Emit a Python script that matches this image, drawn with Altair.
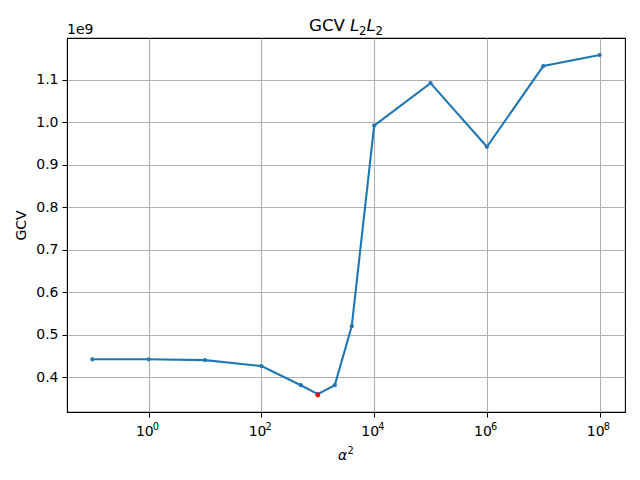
import altair as alt
import pandas as pd

alpha2 = [0.1, 1, 10, 100, 500, 1000, 2000, 4000, 1e4, 1e5, 1e6, 1e7, 1e8]
gcv = [0.442, 0.442, 0.440, 0.426, 0.381, 0.360, 0.381, 0.520, 0.992, 1.092, 0.942, 1.132, 1.158]
best_alpha = [1000]
best_gcv = [0.358]
x_ticks = [1, 100, 1e4, 1e6, 1e8]
x_tick_exp = ["0", "2", "4", "6", "8"]
y_ticks = [0.4, 0.5, 0.6, 0.7, 0.8, 0.9, 1.0, 1.1]

df = pd.DataFrame({"alpha2": alpha2, "gcv": gcv})
best = pd.DataFrame({"alpha2": best_alpha, "gcv": best_gcv})
ticks = pd.DataFrame({"v": x_ticks, "base": ["10"] * len(x_ticks), "exp": x_tick_exp})

FONT = "DejaVu Sans"
BLUE = "#1f77b4"

xscale = alt.Scale(type="log", domain=[10 ** -1.45, 10 ** 8.45], nice=False, zero=False)
yscale = alt.Scale(domain=[0.318, 1.198], nice=False, zero=False)

xaxis = alt.Axis(
    values=x_ticks, labels=False, title=None,
    tickColor="black", tickSize=5, domainColor="black",
    grid=True, gridColor="#b0b0b0", gridWidth=1.1,
)
yaxis = alt.Axis(
    values=y_ticks, format=".1f",
    title="GCV", titleFontWeight="normal", titleFontSize=14, titleFont=FONT,
    titleColor="black", titlePadding=7,
    labelFont=FONT, labelFontSize=14, labelColor="black", labelPadding=4,
    tickColor="black", tickSize=5, domainColor="black",
    grid=True, gridColor="#b0b0b0", gridWidth=1.1,
)

base = alt.Chart(df)
line = base.mark_line(color=BLUE, strokeWidth=2.1).encode(
    x=alt.X("alpha2:Q", scale=xscale, axis=xaxis),
    y=alt.Y("gcv:Q", scale=yscale, axis=yaxis),
)
pts = base.mark_circle(color=BLUE, size=18, opacity=1).encode(
    x=alt.X("alpha2:Q", scale=xscale),
    y=alt.Y("gcv:Q", scale=yscale),
)
red = alt.Chart(best).mark_circle(color="red", size=24, opacity=1).encode(
    x=alt.X("alpha2:Q", scale=xscale),
    y=alt.Y("gcv:Q", scale=yscale),
)

tk = alt.Chart(ticks)
lab10 = tk.mark_text(font=FONT, fontSize=14, align="right", baseline="alphabetic", color="black", dx=5).encode(
    x=alt.X("v:Q", scale=xscale), y=alt.value(398), text="base:N")
labexp = tk.mark_text(font=FONT, fontSize=9.8, align="left", baseline="alphabetic", color="black", dx=4).encode(
    x=alt.X("v:Q", scale=xscale), y=alt.value(392), text="exp:N")

txt = pd.DataFrame({"t": ["GCV"], "L": ["L"], "s": ["2"], "a": ["α"], "e": ["1e9"]})
tc = alt.Chart(txt)
title_parts = [
    tc.mark_text(font=FONT, fontSize=16.7, align="left", baseline="alphabetic", color="black").encode(
        text="t:N", x=alt.value(242), y=alt.value(-7)),
    tc.mark_text(font=FONT, fontSize=16.7, fontStyle="italic", align="left", baseline="alphabetic", color="black").encode(
        text="L:N", x=alt.value(283), y=alt.value(-7)),
    tc.mark_text(font=FONT, fontSize=11.7, align="left", baseline="alphabetic", color="black").encode(
        text="s:N", x=alt.value(292), y=alt.value(-3.5)),
    tc.mark_text(font=FONT, fontSize=16.7, fontStyle="italic", align="left", baseline="alphabetic", color="black").encode(
        text="L:N", x=alt.value(299.5), y=alt.value(-7)),
    tc.mark_text(font=FONT, fontSize=11.7, align="left", baseline="alphabetic", color="black").encode(
        text="s:N", x=alt.value(308.5), y=alt.value(-3.5)),
    tc.mark_text(font=FONT, fontSize=14, fontStyle="italic", align="left", baseline="alphabetic", color="black").encode(
        text="a:N", x=alt.value(271), y=alt.value(422)),
    tc.mark_text(font=FONT, fontSize=9.8, align="left", baseline="alphabetic", color="black").encode(
        text="s:N", x=alt.value(280.5), y=alt.value(416)),
    tc.mark_text(font=FONT, fontSize=14, align="left", baseline="middle", color="black").encode(
        text="e:N", x=alt.value(0), y=alt.value(-8)),
]

chart = alt.layer(line, pts, red, lab10, labexp, *title_parts).properties(
    width=558, height=374,
    autosize=alt.AutoSizeParams(type="none"),
    padding={"left": 59, "top": 30, "right": 7, "bottom": 60},
    background="white",
).configure_view(stroke="black", strokeWidth=1.1)

chart.save("out.html", embed_options={"renderer": "svg", "actions": False})
